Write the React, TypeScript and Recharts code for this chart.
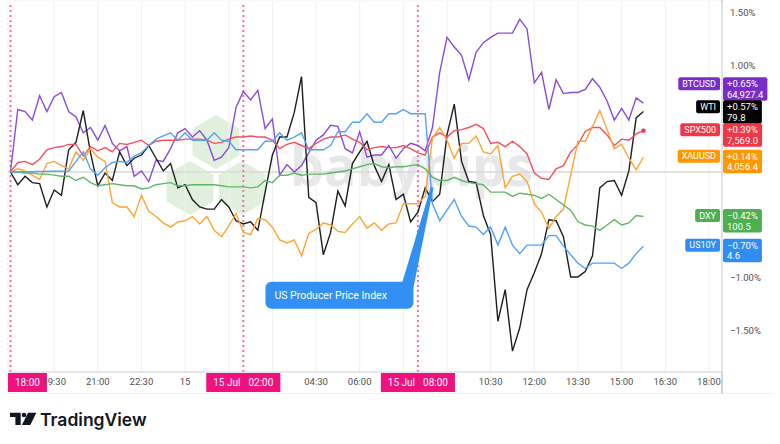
import React from 'react';
import {
  LineChart,
  Line,
  XAxis,
  YAxis,
  CartesianGrid,
  ReferenceLine,
  ReferenceDot,
} from 'recharts';

// 15-minute samples, % change since 18:00 (14 Jul)
const STEP_HOURS = 0.25;

const BTCUSD = [
  0, 0.59, 0.57, 0.49, 0.72, 0.57, 0.71, 0.75, 0.57, 0.52,
  0.37, 0.42, 0.3, 0.44, 0.27, 0.2, 0.24, -0.04, 0.01, -0.09,
  0.11, 0.1, 0.22, 0.37, 0.41, 0.33, 0.39, 0.3, 0.11, 0.14,
  0.23, 0.61, 0.76, 0.68, 0.77, 0.41, 0.5, -0.03, 0.07, 0.0,
  0.06, 0.18, 0.3, 0.35, 0.44, 0.43, 0.22, 0.18, 0.38, 0.14,
  0.16, 0.16, 0.25, 0.13, 0.22, 0.27, 0.25, 0.2, 0.42, 0.94,
  1.27, 1.18, 1.1, 0.87, 1.13, 1.22, 1.27, 1.31, 1.31, 1.31,
  1.44, 1.35, 0.84, 0.94, 0.59, 0.87, 0.74, 0.75, 0.75, 0.78,
  0.88, 0.8, 0.67, 0.49, 0.6, 0.49, 0.7, 0.65,
];

const WTI = [
  0, -0.12, -0.04, -0.1, -0.11, -0.33, -0.17, -0.22, 0.21, 0.28,
  0.58, 0.18, -0.13, -0.01, -0.08, 0.19, 0.06, 0.13, 0.16, 0.25,
  0.13, 0.01, 0.08, -0.15, -0.12, -0.26, -0.33, -0.35, -0.35, -0.26,
  -0.33, -0.46, -0.49, -0.47, -0.55, -0.19, 0.16, 0.33, 0.33, 0.56,
  0.9, -0.24, -0.29, -0.78, -0.57, -0.18, -0.32, 0.08, 0.19, 0.29,
  0.06, -0.09, 0.07, -0.26, -0.21, -0.47, -0.38, -0.15, -0.28, -0.21,
  0.35, 0.64, 0.1, -0.09, -0.1, -0.41, -0.59, -1.41, -1.11, -1.69,
  -1.47, -1.11, -0.95, -0.77, -0.45, -0.46, -0.61, -0.99, -0.99, -0.94,
  -0.79, -0.15, -0.09, -0.08, -0.22, 0.01, 0.51, 0.57,
];

const SPX500 = [
  0, 0.09, 0.1, 0.07, 0.12, 0.21, 0.23, 0.24, 0.26, 0.26,
  0.15, 0.24, 0.2, 0.23, 0.19, 0.27, 0.26, 0.28, 0.3, 0.25,
  0.29, 0.3, 0.3, 0.3, 0.31, 0.31, 0.31, 0.3, 0.27, 0.28,
  0.31, 0.33, 0.33, 0.34, 0.33, 0.33, 0.3, 0.22, 0.26, 0.28,
  0.25, 0.22, 0.27, 0.31, 0.33, 0.33, 0.35, 0.31, 0.28, 0.21,
  0.23, 0.24, 0.23, 0.23, 0.25, 0.22, 0.18, 0.16, 0.33, 0.37,
  0.33, 0.39, 0.4, 0.42, 0.45, 0.41, 0.27, 0.28, 0.24, 0.29,
  0.24, 0.17, -0.01, -0.06, -0.07, 0.03, 0.06, 0.19, 0.26, 0.38,
  0.42, 0.42, 0.35, 0.25, 0.31, 0.3, 0.36, 0.39,
];

const XAUUSD = [
  0, 0.03, 0.01, -0.03, -0.07, 0.08, 0.1, 0.06, 0.03, 0.19,
  0.11, 0.22, 0.14, 0.1, -0.29, -0.33, -0.33, -0.42, -0.22, -0.37,
  -0.42, -0.48, -0.52, -0.47, -0.46, -0.42, -0.49, -0.42, -0.55, -0.61,
  -0.51, -0.39, -0.57, -0.59, -0.44, -0.45, -0.52, -0.64, -0.67, -0.64,
  -0.79, -0.58, -0.54, -0.48, -0.5, -0.56, -0.57, -0.49, -0.42, -0.53,
  -0.48, -0.55, -0.49, -0.48, -0.3, -0.3, -0.3, -0.23, 0.32, 0.42,
  0.3, 0.13, 0.27, 0.27, 0.34, 0.19, 0.17, 0.25, -0.15, -0.04,
  -0.02, -0.09, -0.3, -0.38, -0.53, -0.42, -0.35, -0.03, 0.29, 0.29,
  0.43, 0.58, 0.4, 0.22, 0.26, 0.13, 0.02, 0.14,
];

const DXY = [
  0, 0.0, -0.01, -0.01, -0.02, -0.02, -0.03, -0.04, -0.04, -0.08,
  -0.05, -0.1, -0.13, -0.12, -0.11, -0.12, -0.13, -0.13, -0.16, -0.15,
  -0.12, -0.11, -0.1, -0.13, -0.13, -0.12, -0.12, -0.12, -0.12, -0.13,
  -0.14, -0.14, -0.14, -0.15, -0.14, -0.08, -0.1, -0.03, -0.03, -0.01,
  -0.03, -0.02, -0.02, -0.02, -0.01, 0.0, 0.01, 0.03, 0.05, 0.07,
  0.08, 0.05, 0.04, 0.05, 0.05, 0.06, 0.07, 0.03, -0.05, -0.08,
  -0.08, -0.05, -0.08, -0.1, -0.11, -0.12, -0.19, -0.19, -0.19, -0.23,
  -0.2, -0.21, -0.22, -0.25, -0.21, -0.26, -0.31, -0.36, -0.47, -0.5,
  -0.51, -0.55, -0.5, -0.45, -0.5, -0.48, -0.41, -0.42,
];

// no prints between 18:15 and 19:45
const US10Y = [
  0, null, null, null, null, null, null, null, 0.01, 0.1,
  0.19, 0.03, -0.03, 0.04, 0.09, 0.1, 0.09, 0.15, 0.18, 0.25,
  0.31, 0.34, 0.37, 0.3, 0.37, 0.3, 0.3, 0.3, 0.37, 0.3,
  0.29, 0.21, 0.21, 0.21, 0.21, 0.29, 0.29, 0.37, 0.3, 0.33,
  0.37, 0.21, 0.21, 0.21, 0.25, 0.38, 0.38, 0.47, 0.47, 0.55,
  0.47, 0.47, 0.55, 0.55, 0.59, 0.55, 0.55, 0.55, -0.3, -0.46,
  -0.36, -0.26, -0.42, -0.51, -0.52, -0.59, -0.52, -0.69, -0.52, -0.69,
  -0.77, -0.69, -0.69, -0.69, -0.6, -0.6, -0.7, -0.78, -0.86, -0.91,
  -0.86, -0.86, -0.86, -0.86, -0.91, -0.86, -0.77, -0.7,
];

const SYMBOLS = ['BTCUSD', 'WTI', 'SPX500', 'XAUUSD', 'DXY', 'US10Y'];
const LAST_CHANGE = ['+0.65%', '+0.57%', '+0.39%', '+0.14%', '\u22120.42%', '\u22120.70%'];
const LAST_PRICE = ['64,927.4', '79.8', '7,569.0', '4,056.4', '100.5', '4.6'];

// hours since 18:00
const TICK_HOURS = [1.5, 3, 4.5, 6, 7.5, 9, 10.5, 12, 13.5, 15, 16.5, 18, 19.5, 21, 22.5, 24];
const TICK_LABELS = [
  '19:30', '21:00', '22:30', '15', '01:30', '03:00', '04:30', '06:00',
  '07:30', '09:00', '10:30', '12:00', '13:30', '15:00', '16:30', '18:00',
];
const Y_TICKS = [-1.5, -1, -0.5, 0, 0.5, 1, 1.5];

const EVENT_HOURS = [0, 8, 14];
const EVENT_DATES = ['', '15 Jul', '15 Jul'];
const EVENT_TIMES = ['18:00', '02:00', '08:00'];

const CALLOUT_HOUR = 14.5;
const CALLOUT_VALUE = -0.14;
const CALLOUT_TEXT = 'US Producer Price Index';

const FONT = 'Roboto, "Noto Sans", sans-serif';
const CHART_W = 780;
const CHART_H = 396;
const MARGIN = { top: 2, right: 0, bottom: 0, left: 8 };
const Y_AXIS_W = 58;
const X_AXIS_H = 24;
const Y_MIN = -1.887;
const Y_MAX = 1.604;
const X_MIN = -0.086;
const X_MAX = 24.45;
const PLOT_W = CHART_W - MARGIN.left - MARGIN.right - Y_AXIS_W;
const PLOT_H = CHART_H - MARGIN.top - MARGIN.bottom - X_AXIS_H;
const PX_PER_PCT = PLOT_H / (Y_MAX - Y_MIN);
const PX_PER_HOUR = PLOT_W / (X_MAX - X_MIN);
const TAG_H = 23;
const AXIS_FONT = 9.5;

const SERIES = [
  { key: 'btc', values: BTCUSD, line: '#8a4cd6', tag: '#7a2cc8' },
  { key: 'wti', values: WTI, line: '#1e1e1e', tag: '#000000' },
  { key: 'spx', values: SPX500, line: '#f2525d', tag: '#f23645' },
  { key: 'xau', values: XAUUSD, line: '#ffa433', tag: '#ff9800' },
  { key: 'dxy', values: DXY, line: '#5fb763', tag: '#4caf50' },
  { key: 'us10y', values: US10Y, line: '#52a3f5', tag: '#2f8cf0' },
];

const data = BTCUSD.map((_, i) => {
  const row: Record<string, number | null> = { t: i * STEP_HOURS };
  SERIES.forEach((s) => {
    row[s.key] = s.values[i];
  });
  return row;
});

const lastOf = (arr: (number | null)[]) => arr[arr.length - 1] as number;

const measureCtx = typeof document !== 'undefined' ? document.createElement('canvas').getContext('2d') : null;
function textWidth(s: string, size: number) {
  if (!measureCtx) return s.length * size * 0.56;
  measureCtx.font = `${size}px Roboto`;
  return measureCtx.measureText(s).width;
}

// price tags sit a little below their value and get pushed up when they would overlap
const TAG_LAYOUT = (() => {
  const ys = SERIES.map((s) => (Y_MAX - lastOf(s.values)) * PX_PER_PCT);
  const tops = ys.map((y) => y - 7.5);
  for (let i = tops.length - 2; i >= 0; i--) {
    tops[i] = Math.min(tops[i], tops[i + 1] - TAG_H);
  }
  return tops.map((t, i) => ({ top: t, shift: t - ys[i] }));
})();

// horizontal extent of the time tags under the event lines
function eventTagBox(idx: number) {
  const date = EVENT_DATES[idx];
  const gap = date ? 8 : 0;
  const dateW = date ? textWidth(date, 10) : 0;
  const timeW = textWidth(EVENT_TIMES[idx], 10);
  const w = dateW + gap + timeW + 14;
  const cx = MARGIN.left + (EVENT_HOURS[idx] - X_MIN) * PX_PER_HOUR;
  const left = Math.max(MARGIN.left, cx - w / 2);
  return { left, right: left + w, w, dateW, gap };
}

// axis labels that sit under a tag are left out
const hiddenHour = (h: number, label: string) => {
  const cx = MARGIN.left + (h - X_MIN) * PX_PER_HOUR;
  const half = textWidth(label, AXIS_FONT) / 2;
  return EVENT_HOURS.some((_, idx) => {
    const b = eventTagBox(idx);
    const overlap = Math.min(b.right, cx + half) - Math.max(b.left, cx - half);
    return overlap > 6;
  });
};
const hiddenPct = (v: number) => {
  const y = (Y_MAX - v) * PX_PER_PCT;
  return TAG_LAYOUT.some((t) => y + 4 > t.top && y - 4 < t.top + TAG_H);
};

function PriceTag(props: any) {
  const { viewBox, idx } = props;
  const s = SERIES[idx];
  const right = viewBox.x + viewBox.width;
  const top = viewBox.y + TAG_LAYOUT[idx].shift;
  const name = SYMBOLS[idx];
  const nameW = textWidth(name, 9) + 8;
  const valW = Math.max(textWidth(LAST_CHANGE[idx], 9.5), textWidth(LAST_PRICE[idx], 9.5)) + 8;
  return (
    <g fontFamily={FONT}>
      <rect x={right - 2 - nameW} y={top} width={nameW} height={13} rx={2} fill={s.tag} />
      <text x={right - 2 - nameW / 2} y={top + 9.8} textAnchor="middle" fontSize={9} fill="#fff">
        {name}
      </text>
      <rect x={right + 1} y={top} width={valW} height={TAG_H + 0.5} rx={2} fill={s.tag} />
      <text x={right + 5} y={top + 10} fontSize={9.5} fill="#fff">
        {LAST_CHANGE[idx]}
      </text>
      <text x={right + 5} y={top + 20.5} fontSize={9.5} fill="#fff">
        {LAST_PRICE[idx]}
      </text>
    </g>
  );
}

function EventTag(props: any) {
  const { viewBox, idx } = props;
  const b = eventTagBox(idx);
  const date = EVENT_DATES[idx];
  const top = viewBox.y + viewBox.height + 1;
  return (
    <g fontFamily={FONT} fontSize={10} fill="#fff">
      <rect x={b.left} y={top} width={b.w} height={19} fill="#f2107e" />
      {date ? (
        <text x={b.left + 7} y={top + 13}>
          {date}
        </text>
      ) : null}
      <text x={b.left + 7 + b.dateW + b.gap} y={top + 13}>
        {EVENT_TIMES[idx]}
      </text>
    </g>
  );
}

function Callout(props: any) {
  const { cx, cy } = props;
  const boxL = cx - 167;
  const boxR = cx - 19;
  const boxT = cy + 95;
  const boxB = cy + 122;
  const fill = '#3190f2';
  return (
    <g>
      <path
        d={`M${cx - 1.5} ${cy} L${cx + 1} ${cy + 1} L${boxR} ${boxT + 6} L${boxR - 11} ${boxT} Z`}
        fill={fill}
      />
      <rect x={boxL} y={boxT} width={boxR - boxL} height={boxB - boxT} rx={6} fill={fill} />
      <text x={boxL + 9} y={boxT + 17.5} fontFamily={FONT} fontSize={10.5} fill="#fff">
        {CALLOUT_TEXT}
      </text>
    </g>
  );
}

function hexPoints(cx: number, cy: number, r: number) {
  const pts = [];
  for (let k = 0; k < 6; k++) {
    const a = (Math.PI / 3) * k - Math.PI / 2;
    pts.push(`${cx + r * Math.cos(a)},${cy + r * Math.sin(a)}`);
  }
  return pts.join(' ');
}

const formatPct = (v: number) =>
  hiddenPct(v) ? '' : (v < 0 ? '\u2212' : '') + Math.abs(v).toFixed(2) + '%';
const formatHour = (v: number) => {
  const i = TICK_HOURS.indexOf(v);
  if (i < 0) return '';
  return hiddenHour(v, TICK_LABELS[i]) ? '' : TICK_LABELS[i];
};

export default function App() {
  const lastIdx = data.length - 1;
  return (
    <div
      style={{
        position: 'absolute',
        left: 0,
        top: 0,
        width: 780,
        height: 444,
        background: '#ffffff',
        overflow: 'hidden',
      }}
    >
      {/* watermark and pane borders */}
      <svg width={780} height={444} style={{ position: 'absolute', left: 0, top: 0 }}>
        <line x1={8} x2={722} y1={1} y2={1} stroke="#f2f2f2" />
        <line x1={8} x2={772} y1={393.5} y2={393.5} stroke="#efefef" />
        <g fill="#dceed7" opacity={0.85}>
          <polygon points={hexPoints(216, 142, 27)} />
          <polygon points={hexPoints(190, 188, 27)} />
          <polygon points={hexPoints(242, 188, 27)} />
        </g>
        <text
          x={290}
          y={186}
          fontFamily='"Open Sans", sans-serif'
          fontWeight={700}
          fontSize={56}
          fill="#e6e7e9"
          textLength={243}
          lengthAdjust="spacingAndGlyphs"
        >
          babypips
        </text>
        <line x1={722} x2={722} y1={0} y2={394} stroke="#c6c6cb" strokeWidth={1.5} />
      </svg>

      <div style={{ position: 'absolute', left: 0, top: 0 }}>
        <LineChart width={CHART_W} height={CHART_H} data={data} margin={MARGIN}>
          <CartesianGrid vertical horizontal={false} stroke="#f0f0f0" />
          <XAxis
            dataKey="t"
            type="number"
            domain={[X_MIN, X_MAX]}
            allowDataOverflow
            ticks={TICK_HOURS}
            interval={0}
            tickFormatter={formatHour}
            height={X_AXIS_H}
            tickLine={false}
            tickSize={0}
            tickMargin={6}
            axisLine={{ stroke: '#cfcfcf' }}
            tick={{ fontSize: AXIS_FONT, fill: '#4f4f4f', fontFamily: FONT }}
          />
          <YAxis
            orientation="right"
            type="number"
            domain={[Y_MIN, Y_MAX]}
            allowDataOverflow
            ticks={Y_TICKS}
            interval={0}
            tickFormatter={formatPct}
            width={Y_AXIS_W}
            tickLine={false}
            axisLine={false}
            tick={{ fontSize: AXIS_FONT, fill: '#4f4f4f', fontFamily: FONT }}
          />
          <ReferenceLine y={0} stroke="#d8d8d8" strokeWidth={1.5} />
          {EVENT_HOURS.map((h, idx) => (
            <ReferenceLine
              key={`ev-${h}`}
              x={h}
              stroke="#f26db4"
              strokeWidth={2}
              strokeDasharray="2 3"
              label={(p: any) => <EventTag {...p} idx={idx} />}
            />
          ))}
          {SERIES.map((s) => (
            <Line
              key={s.key}
              type="linear"
              dataKey={s.key}
              stroke={s.line}
              strokeWidth={1.4}
              connectNulls
              isAnimationActive={false}
              activeDot={false}
              dot={
                s.key === 'spx'
                  ? (p: any) =>
                      p.index === lastIdx ? (
                        <circle key={`d-${p.index}`} cx={p.cx} cy={p.cy} r={2.2} fill={s.tag} />
                      ) : (
                        <g key={`d-${p.index}`} />
                      )
                  : false
              }
            />
          ))}
          <ReferenceDot
            x={CALLOUT_HOUR}
            y={CALLOUT_VALUE}
            r={1}
            ifOverflow="visible"
            shape={(p: any) => <Callout {...p} />}
          />
          {SERIES.map((s, idx) => (
            <ReferenceLine
              key={`tag-${s.key}`}
              y={lastOf(s.values)}
              stroke="none"
              ifOverflow="visible"
              label={(p: any) => <PriceTag {...p} idx={idx} />}
            />
          ))}
        </LineChart>
      </div>

      {/* TradingView mark */}
      <svg width={200} height={44} style={{ position: 'absolute', left: 0, top: 400 }}>
        <path d="M10 12.7h10.7v12.3h-5.3v-7.9h-5.4z" fill="#131722" />
        <circle cx={24} cy={15} r={2.3} fill="#131722" />
        <path d="M28 12.7h8.4l-6.1 12.3h-8.4z" fill="#131722" />
        <text x={40} y={25.5} fontFamily="Inter, sans-serif" fontWeight={600} fontSize={17.5} fill="#131722">
          TradingView
        </text>
      </svg>
    </div>
  );
}
